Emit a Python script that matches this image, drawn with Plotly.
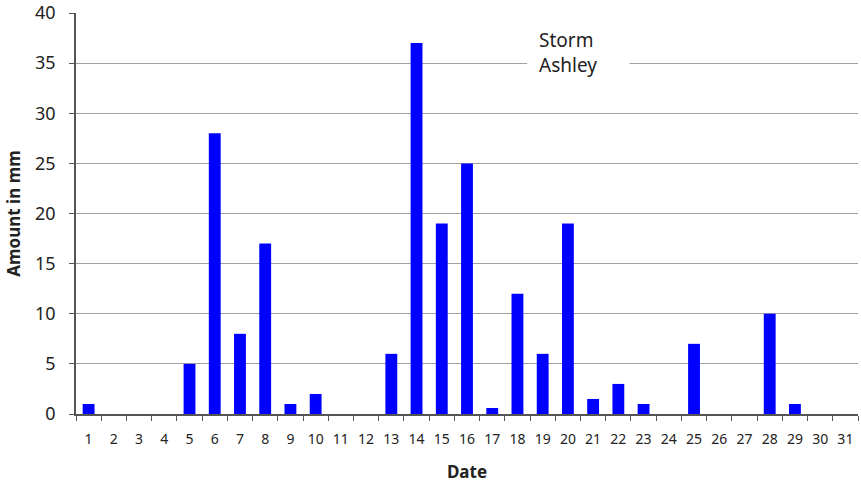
import plotly.graph_objects as go

dates = [str(d) for d in range(1, 32)]
rain_mm = [1, 0, 0, 0, 5, 28, 8, 17, 1, 2, 0, 0, 6, 37, 19, 25, 0.6, 12, 6, 19,
           1.5, 3, 1, 0, 7, 0, 0, 10, 1, 0, 0]
y_ticks = [0, 5, 10, 15, 20, 25, 30, 35, 40]
note_text = "Storm<br>Ashley"

fig = go.Figure()
fig.add_trace(go.Bar(x=dates, y=rain_mm, marker=dict(color="#0000FF", line=dict(width=0)),
                     width=0.47))

font = "Noto Sans, Open Sans, sans-serif"
fig.update_layout(
    width=861, height=483,
    margin=dict(l=76, r=3, t=13, b=69),
    plot_bgcolor="white", paper_bgcolor="white",
    showlegend=False,
    font=dict(family=font, size=13, color="#222222"),
    xaxis=dict(
        type="category", tickson="boundaries", ticks="outside", ticklen=5,
        tickcolor="#555555", showline=True, linecolor="#555555", linewidth=1.5,
        showgrid=False, automargin=False, tickangle=0, ticklabelstandoff=11,
        tickfont=dict(size=14),
        title=dict(text="<b>Date</b>", font=dict(size=17), standoff=20),
    ),
    yaxis=dict(
        range=[0, 40], tickvals=y_ticks, ticks="outside", ticklen=5,
        tickcolor="#555555", showline=True, linecolor="#555555", linewidth=1.5,
        showgrid=True, gridcolor="#A0A0A0", gridwidth=1, zeroline=False,
        automargin=False, tickfont=dict(size=18), ticklabelstandoff=10,
        ticklabeloverflow="allow",
        title=dict(text="<b>Amount in mm</b>", font=dict(size=17), standoff=10),
    ),
    shapes=[dict(type="rect", xref="paper", yref="y", x0=0.577, x1=0.708,
                 y0=34.6, y1=35.4, fillcolor="white", line=dict(width=0),
                 layer="above")],
    annotations=[dict(text=note_text, xref="paper", yref="y", x=0.629, y=36.1,
                      showarrow=False, align="left", font=dict(size=19, color="#222222"))],
)

fig.write_html("out.html", config={"displayModeBar": False},
               post_script="document.body.style.margin='0';")
